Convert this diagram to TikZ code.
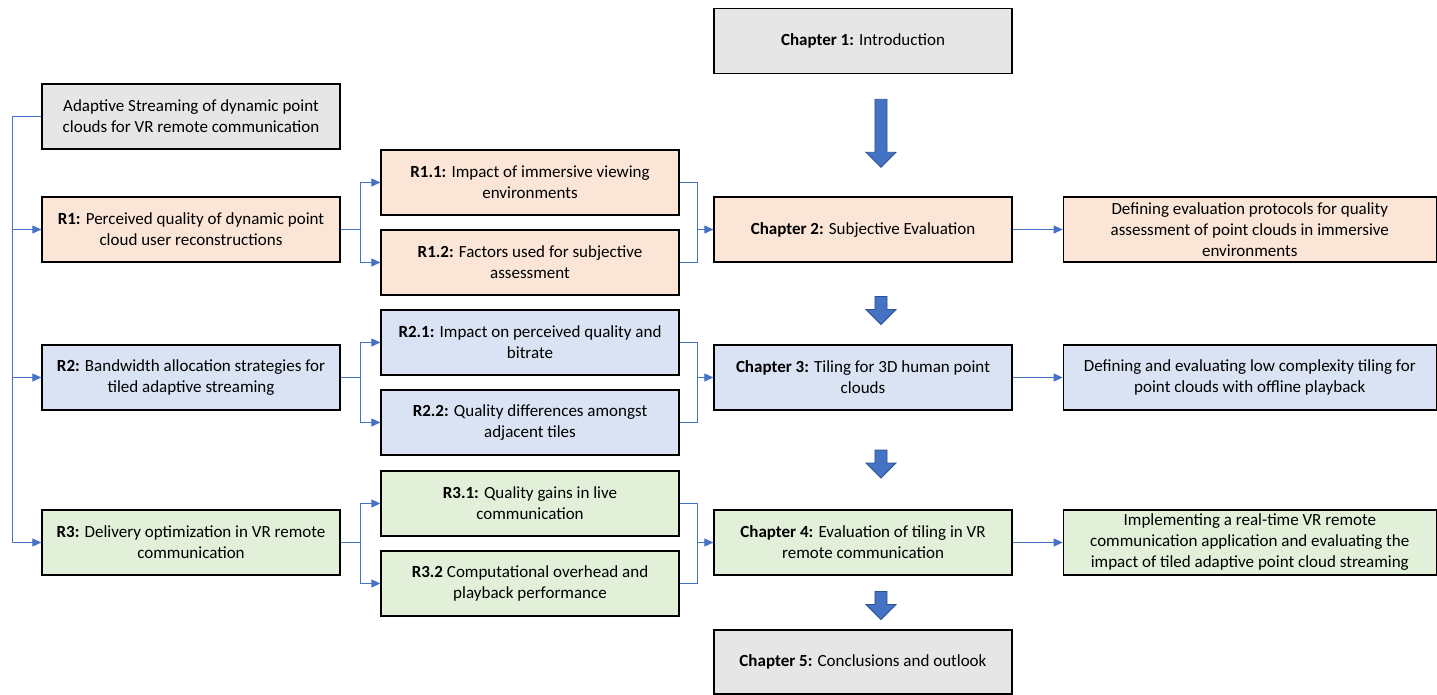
\documentclass[tikz,border=0pt]{standalone}
\usepackage{fontspec}
\setmainfont{Carlito}
\usetikzlibrary{arrows.meta, positioning, calc, shapes.arrows}
\definecolor{greybox}{HTML}{E7E6E6}
\definecolor{peachbox}{HTML}{FBE5D6}
\definecolor{bluebox}{HTML}{DAE3F3}
\definecolor{greenbox}{HTML}{E2F0D9}
\definecolor{linkblue}{HTML}{4472C4}
\definecolor{arrline}{HTML}{2F528F}

\begin{document}
\begin{tikzpicture}[
    x=1pt, y=-1pt,
    box/.style={draw, line width=1.3pt, minimum height=65pt,
                minimum width=298pt, align=center, inner sep=2pt,
                font=\fontsize{17}{21}\selectfont},
    wide/.style={box, minimum width=373pt},
    conn/.style={draw=linkblue, line width=0.9pt},
    arr/.style={conn, -{Triangle[length=9pt, width=8pt]}},
    chaparr/.style={single arrow, draw=arrline, fill=linkblue, line width=0.8pt,
                minimum height=#1, minimum width=30pt, inner xsep=0pt,
                inner ysep=5pt, single arrow head extend=8pt, rotate=-90},
]
\useasboundingbox (0,0) rectangle (1437,695);

% research questions
\node[box, fill=greybox] (aim) at (191,116.5)
    {Adaptive Streaming of dynamic point\\clouds for VR remote communication};
\node[box, fill=peachbox] (r1) at (191,229.5)
    {\textbf{R1:} Perceived quality of dynamic point\\cloud user reconstructions};
\node[box, fill=bluebox] (r2) at (191,377.5)
    {\textbf{R2:} Bandwidth allocation strategies for\\tiled adaptive streaming};
\node[box, fill=greenbox] (r3) at (191,542.5)
    {\textbf{R3:} Delivery optimization in VR remote\\communication};

% sub-questions
\node[box, fill=peachbox] (r11) at (530,182.5)
    {\textbf{R1.1:} Impact of immersive viewing\\environments};
\node[box, fill=peachbox] (r12) at (530,262.5)
    {\textbf{R1.2:} Factors used for subjective\\assessment};
\node[box, fill=bluebox] (r21) at (530,342.5)
    {\textbf{R2.1:} Impact on perceived quality and\\bitrate};
\node[box, fill=bluebox] (r22) at (530,422.5)
    {\textbf{R2.2:} Quality differences amongst\\adjacent tiles};
\node[box, fill=greenbox] (r31) at (530,503.5)
    {\textbf{R3.1:} Quality gains in live\\communication};
\node[box, fill=greenbox] (r32) at (530,583.5)
    {\textbf{R3.2} Computational overhead and\\playback performance};

% chapters
\node[box, fill=greybox] (ch1) at (863,41) {\textbf{Chapter 1:} Introduction};
\node[box, fill=peachbox] (ch2) at (863,229.5) {\textbf{Chapter 2:} Subjective Evaluation};
\node[box, fill=bluebox] (ch3) at (863,377.5)
    {\textbf{Chapter 3:} Tiling for 3D human point\\clouds};
\node[box, fill=greenbox] (ch4) at (863,542.5)
    {\textbf{Chapter 4:} Evaluation of tiling in VR\\remote communication};
\node[box, fill=greybox, minimum height=64pt] (ch5) at (863,662)
    {\textbf{Chapter 5:} Conclusions and outlook};

% outcomes
\node[wide, fill=peachbox, right=50pt of ch2] (o1)
    {Defining evaluation protocols for quality\\assessment of point clouds in immersive\\environments};
\node[wide, fill=bluebox, right=50pt of ch3] (o2)
    {Defining and evaluating low complexity tiling for\\point clouds with offline playback};
\node[wide, fill=greenbox, right=50pt of ch4] (o3)
    {Implementing a real-time VR remote\\communication application and evaluating the\\impact of tiled adaptive point cloud streaming};

% trunk on the left
\coordinate (trunk) at (12,116.5);
\draw[conn] (aim.west) -- (trunk) -- (trunk |- r3.west);
\foreach \q in {r1,r2,r3}
    \draw[arr] (trunk |- \q.west) -- (\q.west);

% fan out and merge
\foreach \q/\a/\b/\c in {r1/r11/r12/ch2, r2/r21/r22/ch3, r3/r31/r32/ch4} {
    \draw[arr] (\q.east) -- ++(20,0) |- (\a.west);
    \draw[arr] (\q.east) -- ++(20,0) |- (\b.west);
    \draw[conn] (\a.east) -- ++(18,0) coordinate (j\q) |- (\b.east);
    \draw[arr] (j\q |- \c.west) -- (\c.west);
    }
\draw[arr] (ch2) -- (o1);
\draw[arr] (ch3) -- (o2);
\draw[arr] (ch4) -- (o3);

% block arrows between chapters
\node[chaparr=68pt] (a12) at ($(ch1.south)!0.5!(ch2.north)+(18,-5)$) {};
\node[chaparr=28pt] (a23) at ($(ch2.south)!0.5!(ch3.north)+(18,4)$) {};
\node[chaparr=28pt] (a34) at ($(ch3.south)!0.5!(ch4.north)+(18,1)$) {};
\node[chaparr=28pt] (a45) at ($(ch4.south)!0.5!(ch5.north)+(18,0)$) {};
\end{tikzpicture}
\end{document}
